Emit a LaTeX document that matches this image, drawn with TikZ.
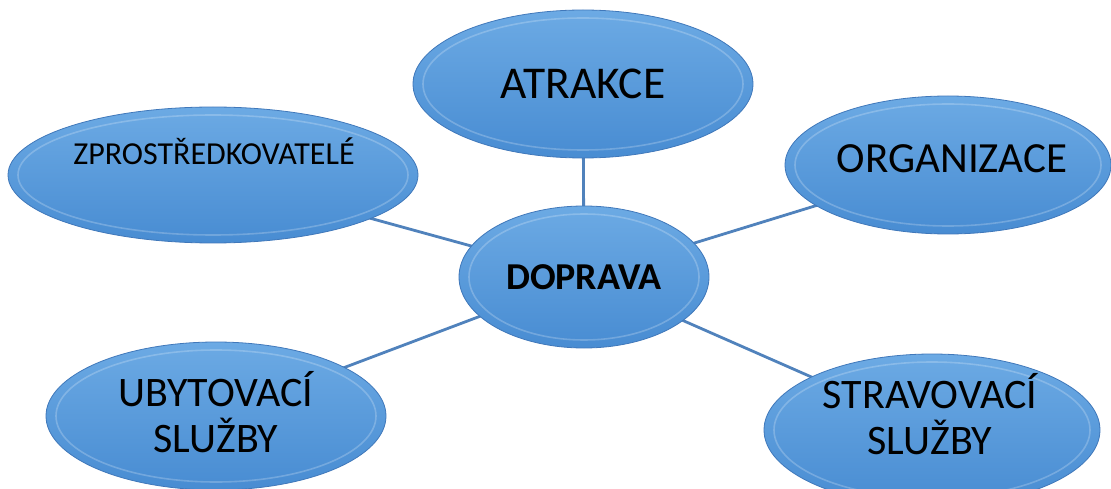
\documentclass[tikz,border=0pt]{standalone}
\usepackage{fontspec}
\setmainfont{Carlito}
\usetikzlibrary{shapes.geometric,backgrounds}
\definecolor{blobtop}{RGB}{108,170,228}
\definecolor{blobbot}{RGB}{72,140,210}
\definecolor{blobedge}{RGB}{64,120,186}
\definecolor{linkc}{RGB}{80,130,188}
\tikzset{
  blob/.style={ellipse, inner sep=0pt, draw=blobedge, line width=0.8pt,
    top color=blobtop, bottom color=blobbot},
  rim/.style={draw=white, draw opacity=0.22, line width=1.6pt},
  link/.style={draw=linkc, line width=2.8pt},
  lbl/.style={inner sep=0pt, text=black, align=center},
}
\newcommand\blobnode[5]{%
  \node[blob, minimum width=#4*2pt, minimum height=#5*2pt] (#1) at (#2,#3) {};
  \draw[rim] (#1.center) ellipse [x radius=#4pt-10pt, y radius=#5pt-8pt];
}
\begin{document}
\begin{tikzpicture}[x=1pt,y=-1pt]
\useasboundingbox (0,0) rectangle (1111,489);
\blobnode{dop}{584}{277}{125}{71}
\blobnode{atr}{583}{84}{170}{74}
\blobnode{zpr}{213}{175}{205}{68}
\blobnode{org}{948}{165}{163}{69}
\blobnode{uby}{216}{416}{170}{74}
\blobnode{str}{932}{430}{168}{76}
\begin{scope}[on background layer]
  \draw[link] (dop.center) -- (atr.center);
  \draw[link] (dop.center) -- (zpr.center);
  \draw[link] (dop.center) -- (org.center);
  \draw[link] (dop.center) -- (uby.center);
  \draw[link] (dop.center) -- (str.center);
\end{scope}
\node[lbl, anchor=base, font=\fontsize{38}{45}\selectfont\bfseries] (tdop) at (584,289) {DOPRAVA};
\node[lbl, anchor=base, font=\fontsize{45.5}{54}\selectfont] (tatr) at (583,99) {ATRAKCE};
\node[lbl, anchor=base, font=\fontsize{32}{38}\selectfont] (tzpr) at (214,165) {ZPROSTŘEDKOVATELÉ};
\node[lbl, anchor=base, font=\fontsize{43}{52}\selectfont] (torg) at (952,173) {ORGANIZACE};
\node[lbl, font=\fontsize{42}{46}\selectfont] (tuby) at (216,412.5) {UBYTOVACÍ\\SLUŽBY};
\node[lbl, font=\fontsize{42}{46}\selectfont] (tstr) at (930,414.5) {STRAVOVACÍ\\SLUŽBY};
\end{tikzpicture}
\end{document}
